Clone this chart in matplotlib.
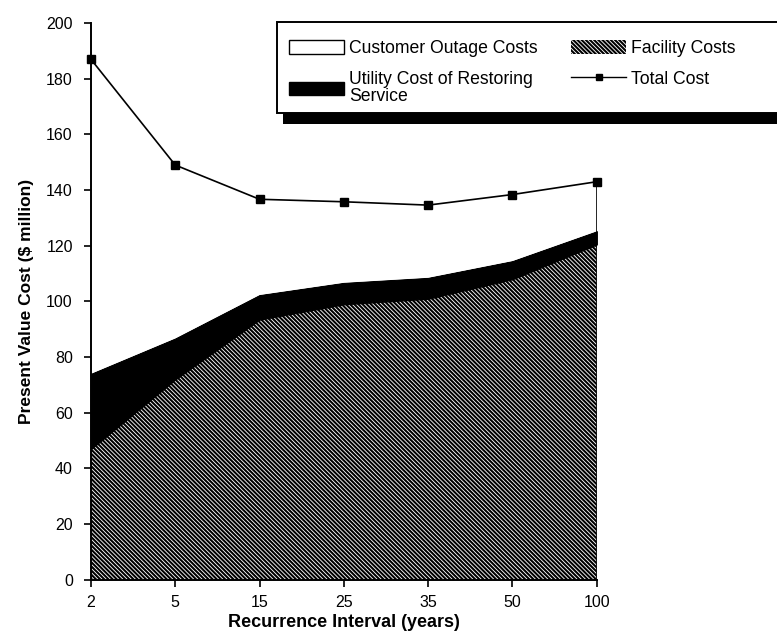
import matplotlib
matplotlib.use("Agg")
import matplotlib.pyplot as plt
from matplotlib.patches import Patch, Rectangle
from matplotlib.lines import Line2D
import numpy as np

plt.rcParams['font.family'] = ['Liberation Sans', 'DejaVu Sans']
plt.rcParams['hatch.linewidth'] = 1.5

# Recurrence intervals (years) and present value costs ($ million)
intervals = ['2', '5', '15', '25', '35', '50', '100']
facility = [47, 72, 93.5, 99, 101, 108, 120.5]
utility = [27, 14.7, 8.8, 7.7, 7.5, 6.5, 4.7]
total = [187, 149, 136.7, 135.8, 134.6, 138.4, 143]

x = np.arange(len(intervals))
fac = np.array(facility)
util_top = fac + np.array(utility)
tot = np.array(total)

HATCH = '\\' * 8

fig = plt.figure(figsize=(7.77, 6.40), dpi=100)
ax = fig.add_axes([0.117, 0.094, 0.651, 0.870])

# stacked areas: facility (hatched), utility (black), customer outage (white)
ax.fill_between(x, 0, fac, facecolor='white', edgecolor='black',
                hatch=HATCH, linewidth=0)
ax.fill_between(x, fac, util_top, facecolor='black', edgecolor='black',
                linewidth=1)
ax.fill_between(x, util_top, tot, facecolor='white', edgecolor='none')
ax.vlines(x[-1], 0, tot[-1], color='black', linewidth=1.2)

ax.plot(x, tot, color='black', linewidth=1.2, marker='s', markersize=6,
        clip_on=False, zorder=3)

ax.set_xlim(x[0], x[-1])
ax.set_ylim(0, 200)
ax.set_yticks(range(0, 201, 20))
ax.set_xticks(x)
ax.set_xticklabels(intervals)
ax.tick_params(axis='both', direction='out', length=5, width=1.2,
               labelsize=11.5, colors='black')
ax.tick_params(axis='x', pad=6)
ax.tick_params(axis='y', pad=8)
for side in ['top', 'right']:
    ax.spines[side].set_visible(False)
for side in ['left', 'bottom']:
    ax.spines[side].set_linewidth(1.4)

ax.set_xlabel('Recurrence Interval (years)', fontsize=13, fontweight='bold',
              labelpad=3)
ax.set_ylabel('Present Value Cost ($ million)', fontsize=12.5,
              fontweight='bold', labelpad=9)

handles = [
    Patch(facecolor='white', edgecolor='black', linewidth=1),
    Patch(facecolor='black', edgecolor='black'),
    Patch(facecolor='white', edgecolor='black', hatch=HATCH, linewidth=0),
    Line2D([], [], color='black', linewidth=1, marker='s', markersize=4),
]
labels = ['Customer Outage Costs', 'Utility Cost of Restoring\nService',
          'Facility Costs', 'Total Cost']
leg = fig.legend(handles, labels, ncol=2, loc='upper left',
                 bbox_to_anchor=(277 / 777, 1 - 28 / 640), borderaxespad=0,
                 fontsize=12.7, frameon=False, handlelength=3.1,
                 handleheight=0.8, columnspacing=1.9, borderpad=0.7,
                 labelspacing=0.77, handletextpad=0.3)
leg.get_texts()[1].set_linespacing(1.0)
leg.set_zorder(6)

# legend box runs off the right edge, with a solid drop shadow below
fig.canvas.draw()
bb = leg.get_window_extent().transformed(fig.transFigure.inverted())
top = bb.y1 + 6 / 640
bottom = bb.y0 + 4 / 640
frame = Rectangle((bb.x0, bottom), 1.2 - bb.x0, top - bottom,
                  transform=fig.transFigure, facecolor='white',
                  edgecolor='black', linewidth=1.4, zorder=5.5)
shadow = Rectangle((bb.x0 + 0.008, bottom - 0.016), 1.2 - bb.x0, 0.016,
                   transform=fig.transFigure, facecolor='black',
                   edgecolor='none', zorder=5.4)
fig.patches.extend([shadow, frame])

fig.savefig('out.png', dpi=100)
